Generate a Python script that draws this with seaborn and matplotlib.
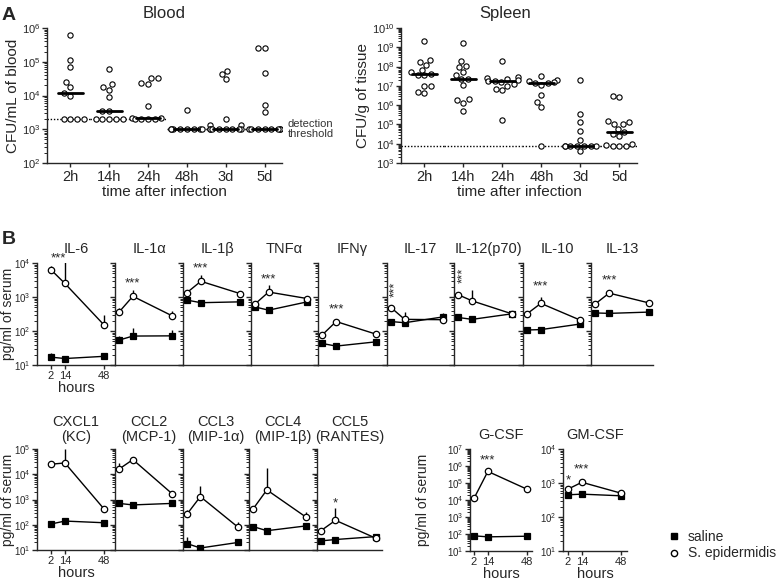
import numpy as np
import pandas as pd
import matplotlib
matplotlib.use('Agg')
import matplotlib.pyplot as plt
import seaborn as sns
from matplotlib.lines import Line2D
from matplotlib.ticker import LogLocator, NullFormatter, FixedLocator

# -----------------------------
# PANEL A DATA (CFU counts)
# -----------------------------
times = ['2h', '14h', '24h', '48h', '3d', '5d']

blood_2h = [6e5, 1.1e5, 7e4, 2.5e4, 1.8e4, 1.2e4, 1e4, 2e3, 2e3, 2e3, 2e3]
blood_14h = [6.3e4, 2.2e4, 1.8e4, 1.5e4, 9e3, 3.5e3, 3.5e3, 2e3, 2e3, 2e3, 2e3, 2e3]
blood_24h = [3.3e4, 3.2e4, 2.3e4, 2.2e4, 5e3, 2.2e3, 2.2e3, 2e3, 2e3, 2e3, 2e3]
blood_48h = [3.8e3, 1e3, 1e3, 1e3, 1e3, 1e3, 1e3, 1e3, 1e3]
blood_3d = [5.5e4, 4.3e4, 3e4, 2e3, 1.35e3, 1.3e3, 1e3, 1e3, 1e3, 1e3, 1e3, 1e3, 1e3, 1e3]
blood_5d = [2.6e5, 2.6e5, 4.7e4, 5.4e3, 3.2e3, 1e3, 1e3, 1e3, 1e3, 1e3, 1e3, 1e3, 1e3]
blood_threshold = [2e3, 2e3, 2e3, 1e3, 1e3, 1e3]

spleen_2h = [2e9, 2.3e8, 1.7e8, 1.2e8, 7e7, 5e7, 4.3e7, 3.8e7, 3.5e7, 1e7, 1e7, 5e6, 4.5e6]
spleen_14h = [1.7e9, 1.9e8, 1.1e8, 9e7, 5e7, 3.5e7, 2.4e7, 2.2e7, 1.07e7, 2.1e6, 1.8e6, 1.3e6, 4.8e5]
spleen_24h = [2e8, 3e7, 2.7e7, 2.3e7, 2e7, 1.8e7, 1.7e7, 1.5e7, 1.2e7, 1e7, 7e6, 5.8e6, 1.7e5]
spleen_48h = [3.2e7, 2e7, 1.7e7, 1.5e7, 1.45e7, 1.4e7, 1.1e7, 3.2e6, 1.5e6, 8.3e5, 7.5e3]
spleen_3d = [1.9e7, 3.5e5, 1.3e5, 4.5e4, 1.6e4, 7.5e3, 7.5e3, 7.5e3, 7.5e3, 7.5e3, 7.5e3, 7.5e3, 4e3]
spleen_5d = [3.1e6, 2.6e6, 1.5e5, 1.3e5, 1.1e5, 1e5, 6e4, 4.2e4, 3.2e4, 2.4e4, 1e4, 9e3, 7.5e3, 7.5e3, 7.5e3]
spleen_threshold = [7.5e3] * 6

# -----------------------------
# PANEL B DATA (pg/ml of serum at 2, 14, 48 h)
# -----------------------------
hours = [2, 14, 48]

row1_names = ['IL-6', 'IL-1α', 'IL-1β', 'TNFα', 'IFNγ', 'IL-17', 'IL-12(p70)', 'IL-10', 'IL-13']
row1_epi = [[6300, 2500, 150], [360, 1050, 280], [1350, 2900, 1260], [620, 1400, 900],
            [76, 190, 81], [490, 220, 215], [1170, 770, 320], [320, 650, 210], [620, 1300, 670]]
row1_epi_hi = [[8000, 13000, 300], [470, 1600, 390], [1600, 4300, 1450], [700, 2200, 1050],
               [90, 210, 90], [560, 360, 240], [1300, 1600, 360], [360, 1000, 240], [700, 1450, 720]]
row1_sal = [[17, 15.5, 18], [54, 71, 72], [810, 680, 720], [510, 410, 720],
            [43, 36, 48], [190, 175, 260], [250, 220, 320], [107, 110, 160], [340, 330, 360]]
row1_sal_hi = [[22, 17, 21], [70, 120, 105], [900, 750, 800], [560, 450, 800],
               [48, 40, 55], [210, 190, 340], [280, 240, 380], [115, 120, 180], [370, 350, 390]]
row1_stars = ['***', '***', '***', '***', '***', '***', '***', '***', '***']

row2_names = ['CXCL1\n(KC)', 'CCL2\n(MCP-1)', 'CCL3\n(MIP-1α)', 'CCL4\n(MIP-1β)', 'CCL5\n(RANTES)']
row2_epi = [[25000, 28000, 420], [16000, 38000, 1700], [260, 1300, 78], [420, 2400, 200], [59, 150, 29]]
row2_epi_hi = [[30000, 100000, 500], [27000, 42000, 1900], [400, 3500, 130], [480, 17000, 330], [65, 460, 33]]
row2_sal = [[107, 140, 120], [700, 610, 700], [18, 12, 20], [85, 58, 90], [23, 26, 34]]
row2_sal_hi = [[120, 160, 135], [760, 660, 800], [32, 15, 23], [95, 65, 100], [25, 28, 38]]

csf_names = ['G-CSF', 'GM-CSF']
csf_epi = [[12600, 480000, 43000], [660, 1050, 500]]
csf_epi_hi = [[15000, 600000, 50000], [720, 1150, 540]]
csf_sal = [[78, 68, 74], [450, 470, 420]]
csf_sal_hi = [[90, 75, 85], [480, 500, 450]]

# -----------------------------
# STYLE / LAYOUT
# -----------------------------
sns.set_theme(style='ticks')
plt.rcParams['font.family'] = ['Liberation Sans', 'DejaVu Sans']
plt.rcParams['mathtext.fontset'] = 'custom'
plt.rcParams['mathtext.rm'] = 'Liberation Sans'
plt.rcParams['mathtext.default'] = 'regular'
plt.rcParams['axes.linewidth'] = 1.0
plt.rcParams['axes.facecolor'] = 'none'
plt.rcParams['xtick.major.width'] = 1.0
plt.rcParams['ytick.major.width'] = 1.0
plt.rcParams['ytick.minor.width'] = 0.7

W, H = 777, 581
fig = plt.figure(figsize=(W / 100, H / 100), dpi=100)


def box(l, t, r, b):
    return [l / W, 1 - b / H, (r - l) / W, (b - t) / H]


def place_ylabel(ax, text, left, right, x_px, size):
    # x_px is the centre of the rotated label; the label anchors on its right edge
    ax.set_ylabel(text, fontsize=size)
    ax.yaxis.set_label_coords((x_px + size * 0.7 - left) / (right - left), 0.5)


def log_ticks(ax, lo, hi, labelsize=7):
    ax.set_yscale('log')
    ax.set_ylim(10 ** lo, 10 ** hi)
    ax.yaxis.set_major_locator(FixedLocator([10.0 ** k for k in range(lo, hi + 1)]))
    ax.yaxis.set_minor_locator(LogLocator(base=10, subs=np.arange(2, 10), numticks=30))
    ax.yaxis.set_minor_formatter(NullFormatter())
    ax.tick_params(axis='y', which='major', length=3.5, labelsize=labelsize, pad=1.2)
    ax.tick_params(axis='y', which='minor', length=2)


def cfu_panel(ax, groups, threshold, lo, hi, title, title_x=0.5):
    log_ticks(ax, lo, hi, labelsize=8)
    df = pd.DataFrame({'time': np.repeat(times, [len(g) for g in groups]),
                       'cfu': np.concatenate(groups)})
    sns.swarmplot(data=df, x='time', y='cfu', order=times, ax=ax, size=3.8,
                  color='white', edgecolor='black', linewidth=0.8, zorder=3)
    for i, g in enumerate(groups):
        ax.plot([i - 0.32, i + 0.32], [np.median(g)] * 2, color='black', lw=2, zorder=4)
    for i, thr in enumerate(threshold):
        x0 = -0.6 if i == 0 else i - 0.5
        x1 = 5.45 if i == len(threshold) - 1 else i + 0.5
        ax.hlines(thr, x0, x1, color='black', lw=1, ls=(0, (1, 1.3)), zorder=2)
    ax.set_xlim(-0.6, 5.45)
    sns.despine(ax=ax)
    ax.tick_params(axis='x', length=3, labelsize=10.5, pad=2)
    ax.set_xlabel('time after infection', fontsize=11, labelpad=1)
    ax.set_title(title, fontsize=12, pad=7, x=title_x)


def cyto_panel(ax, name, epi, epi_hi, sal, sal_hi, lo, hi, xlim, first, pad=7):
    log_ticks(ax, lo, hi)
    for vals, tops, mk, fc, ms in [(sal, sal_hi, 's', 'black', 5), (epi, epi_hi, 'o', 'white', 4.6)]:
        ax.vlines(hours, vals, tops, color='black', lw=1, zorder=1.5)
        sns.lineplot(x=hours, y=vals, ax=ax, color='black', lw=1, marker=mk, markersize=ms,
                     markerfacecolor=fc, markeredgecolor='black', markeredgewidth=0.9, zorder=3)
    ax.set_xlim(*xlim)
    sns.despine(ax=ax)
    ax.set_title(name, fontsize=10.5, pad=pad, linespacing=1.05)
    ax.set_ylabel('')
    if first:
        ax.set_xticks(hours)
        ax.set_xticklabels(['2', '14', '48'])
        ax.tick_params(axis='x', length=3, labelsize=8, pad=1)
        ax.set_xlabel('hours', fontsize=10.5, labelpad=0)
    else:
        ax.set_xticks([])
        ax.tick_params(axis='y', labelleft=False)


def stars(ax, x, logy, txt, rot=0):
    ax.text(x, 10 ** logy, txt, ha='center', va='center', fontsize=9.5, rotation=rot,
            clip_on=False, zorder=6)


# -----------------------------
# PANEL A
# -----------------------------
ax_blood = fig.add_axes(box(47, 28, 282, 163))
cfu_panel(ax_blood, [blood_2h, blood_14h, blood_24h, blood_48h, blood_3d, blood_5d],
          blood_threshold, 2, 6, 'Blood')
place_ylabel(ax_blood, 'CFU/mL of blood', 47, 282, 12, 11)
fig.text(288 / W, 1 - 129 / H, 'detection\nthreshold', fontsize=8, va='center', color='#333333',
         linespacing=1.1)

ax_spleen = fig.add_axes(box(401, 28, 637, 163))
cfu_panel(ax_spleen, [spleen_2h, spleen_14h, spleen_24h, spleen_48h, spleen_3d, spleen_5d],
          spleen_threshold, 3, 10, 'Spleen', title_x=(505 - 401) / 236)
place_ylabel(ax_spleen, 'CFU/g of tissue', 401, 637, 362, 11)

fig.text(2 / W, 1 - 15 / H, 'A', fontsize=14, fontweight='bold', va='center')
fig.text(2 / W, 1 - 240 / H, 'B', fontsize=14, fontweight='bold', va='center')

# -----------------------------
# PANEL B, ROW 1
# -----------------------------
edges1 = [37, 115, 183, 251, 318, 387, 454, 523, 591, 653]
for i, name in enumerate(row1_names):
    xlim = (-10.2 if i == 0 else -1.5, 57.5 if i < len(row1_names) - 1 else 51.5)
    ax = fig.add_axes(box(edges1[i], 263, edges1[i + 1], 365))
    cyto_panel(ax, name, row1_epi[i], row1_epi_hi[i], row1_sal[i], row1_sal_hi[i],
               1, 4, xlim, i == 0)
    if i == 0:
        place_ylabel(ax, 'pg/ml of serum', edges1[0], edges1[1], 8, 10)
    if name in ('IL-17', 'IL-12(p70)'):
        stars(ax, 6, 3.24 if name == 'IL-17' else 3.65, row1_stars[i], rot=90)
    elif name == 'IL-6':
        stars(ax, 8, 4.13, row1_stars[i])
    else:
        star_y = {'IL-1α': 3.41, 'IL-1β': 3.85, 'TNFα': 3.53, 'IFNγ': 2.62,
                  'IL-10': 3.30, 'IL-13': 3.50}[name]
        stars(ax, 14, star_y, row1_stars[i])

# -----------------------------
# PANEL B, ROW 2
# -----------------------------
edges2 = [37, 115, 183, 249, 317, 382]
for i, name in enumerate(row2_names):
    xlim = (-10.2 if i == 0 else -1.5, 57.5 if i < len(row2_names) - 1 else 53)
    ax = fig.add_axes(box(edges2[i], 449, edges2[i + 1], 550))
    cyto_panel(ax, name, row2_epi[i], row2_epi_hi[i], row2_sal[i], row2_sal_hi[i],
               1, 5, xlim, i == 0, pad=6)
    if i == 0:
        place_ylabel(ax, 'pg/ml of serum', edges2[0], edges2[1], 8, 10)
    if name.startswith('CCL5'):
        stars(ax, 14, 2.86, '*')

ax_g = fig.add_axes(box(470, 449, 532, 551))
cyto_panel(ax_g, csf_names[0], csf_epi[0], csf_epi_hi[0], csf_sal[0], csf_sal_hi[0],
           1, 7, (-1.5, 52.3), True)
place_ylabel(ax_g, 'pg/ml of serum', 470, 532, 423, 10)
stars(ax_g, 14, 6.35, '***')

ax_gm = fig.add_axes(box(563, 449, 627, 551))
cyto_panel(ax_gm, csf_names[1], csf_epi[1], csf_epi_hi[1], csf_sal[1], csf_sal_hi[1],
           1, 4, (-2.3, 53), True)
stars(ax_gm, 2, 3.09, '*')
stars(ax_gm, 14, 3.41, '***')

handles = [Line2D([], [], marker='s', color='black', ls='none', markersize=5),
           Line2D([], [], marker='o', markerfacecolor='white', markeredgecolor='black',
                  ls='none', markersize=4.5)]
fig.legend(handles, ['saline', 'S. epidermidis'], loc='center left',
           bbox_to_anchor=(660 / W, 1 - 545 / H), frameon=False, fontsize=10,
           handlelength=1, handletextpad=0.5, labelspacing=0.2, borderpad=0)

fig.savefig('out.png', dpi=100)
